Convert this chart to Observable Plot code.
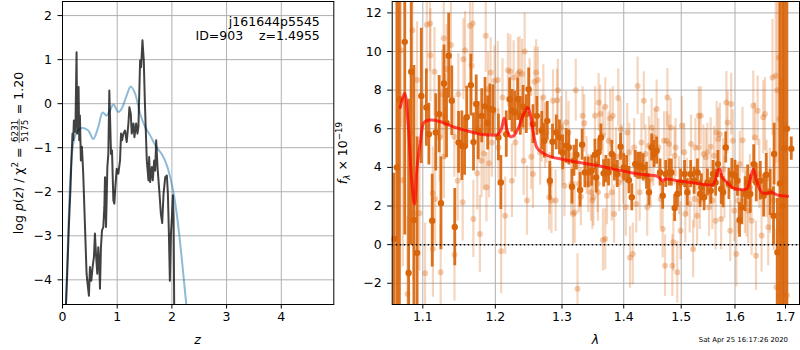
<!DOCTYPE html>
<html><head><meta charset="utf-8">
<script src="https://cdn.jsdelivr.net/npm/d3@7"></script>
<script src="https://cdn.jsdelivr.net/npm/@observablehq/plot@0.6"></script>
<style>
body{margin:0;background:#fff;}
#wrap{position:relative;width:800px;height:350px;}
#wrap svg{position:absolute;left:0;top:0;}
</style></head><body><div id="wrap"></div>
<script>
// ---------- left panel: p(z) ----------
const zTicks = [0, 1, 2, 3, 4];
const pzTicks = [-4, -3, -2, -1, 0, 1, 2];
const priorZ = [0.05,0.104,0.147,0.196,0.257,0.318,0.379,0.471,0.563,0.654,0.734,0.807,0.869,0.930,1.021,1.083,1.174,1.248,1.327,1.419,1.511,1.602,1.713,1.817,1.908,1.982,2.043,2.104,2.165,2.214,2.263,2.30];
const priorLog = [-5.2,-2.95,-1.59,-0.91,-0.64,-0.57,-0.55,-0.61,-0.80,-0.53,-0.20,-0.27,-0.15,-0.02,-0.19,-0.11,0.19,0.39,0.23,-0.23,-0.53,-0.72,-0.98,-1.15,-1.40,-1.74,-2.12,-2.65,-3.33,-3.94,-4.56,-5.1];
const pzZ = [0.055,0.086,0.116,0.147,0.165,0.183,0.196,0.208,0.226,0.239,0.257,0.269,0.281,0.294,0.306,0.318,0.336,0.355,0.379,0.440,0.459,0.483,0.502,0.526,0.550,0.575,0.593,0.612,0.636,0.654,0.673,0.685,0.703,0.722,0.746,0.765,0.777,0.795,0.807,0.820,0.838,0.856,0.869,0.887,0.905,0.930,0.948,0.966,0.991,1.021,1.052,1.070,1.089,1.113,1.144,1.174,1.205,1.223,1.248,1.266,1.297,1.315,1.346,1.370,1.388,1.419,1.437,1.462,1.486,1.505,1.523,1.541,1.572,1.584,1.602,1.633,1.651,1.676,1.694,1.713,1.737,1.755,1.774,1.798,1.823,1.847,1.878,1.908,1.927,1.945,1.963,1.982,2.000,2.018,2.031,2.043];
const pzLog = [-4.8,-3.86,-2.80,-1.89,-1.21,-0.68,-0.83,-0.38,-0.64,-0.34,1.17,-0.68,-0.15,0.38,-0.83,-0.27,-1.29,-0.98,-1.59,-3.86,-4.09,-4.36,-3.71,-4.02,-3.71,-3.48,-2.95,-3.41,-3.86,-3.26,-3.64,-4.20,-3.26,-2.88,-2.80,-2.35,-1.67,-2.80,-2.20,-1.44,-1.14,0.30,-0.30,-1.14,-1.06,-2.20,-2.27,-1.89,-1.48,-1.59,-1.29,-0.68,-0.83,-0.68,-0.61,-0.87,-0.45,-0.08,-0.23,-0.68,-0.45,-0.76,-0.45,-0.68,-0.53,0.98,0.83,1.44,0.98,0.08,-0.61,-1.29,-1.74,-1.21,-1.78,-1.44,-1.74,-1.29,-1.52,-0.83,-1.44,-1.74,-2.05,-2.50,-2.71,-2.05,-1.67,-1.63,-2.05,-2.95,-4.02,-2.95,-2.58,-2.08,-2.58,-4.8];
const annotation = ["j161644p5545", "ID=903\u00a0\u00a0\u00a0\u00a0z=1.4955"];

// ---------- right panel: spectrum ----------
const lamTicks = [1.1, 1.2, 1.3, 1.4, 1.5, 1.6, 1.7];
const fluxTicks = [-2, 0, 2, 4, 6, 8, 10, 12];
const darkWave = [1.0625,1.0663,1.0695,1.0764,1.0814,1.0848,1.0883,1.0925,1.0980,1.1047,1.1080,1.1125,1.1172,1.1218,1.1242,1.1283,1.1317,1.1347,1.1389,1.1430,1.1482,1.1528,1.1565,1.1595,1.1653,1.1690,1.1728,1.1757,1.1806,1.1853,1.1890,1.1922,1.1968,
1.2045,1.2080,1.2159,1.2208,1.2243,1.2282,1.2326,1.2366,1.2407,1.2455,1.2490,1.2555,1.2614,1.2688,1.2727,1.2772,1.2812,1.2852,1.2911,1.2960,1.3010,1.3065,1.3107,1.3156,1.3188,1.3227,1.3286,1.3318,1.3362,1.3416,1.3471,1.3524,1.3545,
1.3584,1.3622,1.3666,1.3703,1.3747,1.3801,1.3844,1.3893,1.3946,1.4000,1.4048,1.4088,1.4136,1.4194,1.4236,1.4282,1.4330,1.4388,1.4430,1.4476,1.4518,1.4564,1.4624,1.4670,1.4723,1.4783,1.4824,1.4882,1.4930,1.4988,1.5061,1.5110,1.5171,1.5234,1.5295,1.5344,
1.5368,1.5418,1.5479,1.5540,1.5584,1.5632,1.5676,1.5737,1.5774,1.5823,1.5884,1.5939,1.6000,1.6047,1.6087,1.6132,1.6197,1.6245,1.6296,1.6363,1.6414,1.6493,1.6560,1.6611,1.6690,1.6757,1.6769,1.6836,1.6888,1.6940,1.6975,1.7028,1.7119];
const darkFlux = [0.3,4.0,7.53,10.5,-1.47,8.95,1.28,-0.43,7.7,7.1,5.72,1.24,5.81,6.76,2.14,8.34,6.3,9.78,7.45,0.91,5.29,5.12,5.09,6.6,8.26,5.31,7.28,5.9,6.67,7.16,6.3,7.02,6.98,
5.55,3.22,5.72,7.53,6.93,6.84,7.53,6.67,7.14,6.76,8.05,6.24,6.67,5.90,5.38,6.41,3.31,5.33,5.81,5.55,4.78,5.12,5.03,3.00,4.34,4.66,2.83,5.17,3.74,3.74,3.83,4.66,3.48,
4.78,5.55,3.69,3.91,3.74,4.69,4.00,3.66,5.07,4.00,3.91,3.34,2.45,4.17,4.09,4.09,4.00,3.57,2.71,5.03,4.69,4.86,3.74,2.53,3.66,3.74,3.74,1.90,2.62,3.22,3.66,2.71,3.66,3.31,3.74,2.62,
2.97,2.45,3.22,2.79,3.66,3.22,4.17,2.88,2.71,5.03,3.14,3.66,3.57,3.31,1.28,1.93,2.62,3.22,2.62,4.17,3.22,3.31,2.53,3.62,2.71,1.50,4.69,-0.40,3.17,2.0,5.0,6.0,4.97];
const darkErr = [3.4,12,11,10,9,9,8,6,3.5,2.0,1.6,2.4,2.0,2.0,2.4,2.0,1.8,2.2,1.8,2.0,1.6,1.8,1.5,1.6,1.6,1.5,1.5,1.5,1.4,1.5,1.4,1.3,1.3,
1.2,1.4,1.2,1.1,1.1,1.1,1.1,1.0,1.1,1.0,1.1,1.0,1.0,1.0,0.9,1.0,1.0,0.9,0.9,0.9,0.9,0.9,0.9,0.9,0.8,0.8,0.9,0.8,0.8,0.8,0.8,0.8,0.8,
0.7,0.7,0.7,0.7,0.7,0.7,0.7,0.7,0.7,0.7,0.7,0.7,0.7,0.7,0.7,0.7,0.7,0.7,0.7,0.7,0.7,0.7,0.7,0.7,0.7,0.7,0.7,0.7,0.7,0.7,0.7,0.7,0.7,0.7,0.7,0.7,
0.7,0.7,0.7,0.7,0.7,0.7,0.7,0.8,0.8,0.8,0.8,0.8,0.8,0.8,0.9,0.9,0.9,0.9,1.0,1.0,1.0,1.0,1.1,1.1,1.2,1.5,1.6,2.8,10,14,14,14,0.6];
const lightWave = [1.0715,1.0738,1.0799,1.0840,1.0863,1.0877,1.0924,1.0956,1.1030,1.1053,1.1095,1.1100,1.1132,1.1134,1.1164,1.1155,1.1225,1.1238,1.1257,1.1280,1.1294,1.1282,1.1317,1.1377,1.1424,1.1426,1.1479,1.1470,1.1539,1.1549,1.1572,1.1641,1.1678,1.1664,1.1688,1.1743,1.1780,1.1803,1.1836,1.1863,1.1873,1.1910,1.1896,1.1933,1.1951,1.1988,
1.2035,1.2045,1.2084,1.2104,1.2143,1.2183,1.2218,1.2242,1.2267,1.2292,1.2331,1.2356,1.2391,1.2415,1.2430,1.2465,1.2504,1.2529,1.2554,1.2579,1.2603,1.2628,1.2663,1.2687,1.2712,1.2737,1.2762,1.2801,1.2811,1.2836,1.2861,1.2900,1.2925,1.2935,1.2984,1.3011,1.3038,1.3065,1.3103,1.3146,1.3173,1.3200,1.3216,1.3244,1.3265,1.3298,1.3325,1.3352,1.3390,1.3417,1.3460,1.3482,1.3498,1.3525,1.3568,
1.3574,1.3584,1.3611,1.3655,1.3693,1.3720,1.3747,1.3774,1.3801,1.3817,1.3839,1.3871,1.3909,1.3925,1.3947,1.3963,1.3990,1.4035,1.4059,1.4094,1.4106,1.4153,1.4176,1.4212,1.4235,1.4270,1.4300,1.4341,1.4370,1.4400,1.4429,1.4459,1.4476,1.4506,1.4529,1.4564,1.4594,1.4635,1.4670,1.4694,1.4711,1.4741,1.4753,1.4782,1.4811,1.4841,1.4858,1.4882,1.4899,1.4929,1.4959,1.4988,1.5012,1.5055,1.5074,1.5104,1.5153,1.5178,1.5215,1.5239,1.5258,1.5289,1.5319,1.5338,1.3655,1.3693,
1.5325,1.5356,1.5405,1.5448,1.5479,1.5510,1.5540,1.5571,1.5602,1.5632,1.5651,1.5681,1.5712,1.5737,1.5773,1.5798,1.5835,1.5859,1.5909,1.5927,1.5958,1.5988,1.6026,1.6059,1.6092,1.6145,1.6191,1.6224,1.6256,1.6289,1.6322,1.6355,1.6388,1.6408,1.6441,1.6473,1.6519,1.6552,1.6585,1.6618,1.6651,1.6684,1.6736,1.6763,1.6802,1.6835,1.6868,1.6881,1.6914,1.6934,1.6961,1.6815,1.6868,1.7028];
const lightFlux = [10.07,3.34,-2.55,5.76,11.1,1.62,8.53,1.62,-1.48,11.38,11.45,9.81,2.66,-0.22,2.36,8.95,5.55,-1.43,7.79,10.69,6.62,4.57,9.09,10.34,5.59,-0.52,7.79,3.31,2.19,9.6,10.07,11.33,11.45,9.26,1.33,3.69,0.55,4.34,4.72,10.81,2.97,4.21,8.05,8.91,5.29,8.48,
8.52,5.03,-0.34,7.62,1.50,9.03,8.97,3.31,8.66,5.29,8.83,8.97,8.83,4.34,10.00,2.28,7.83,4.55,3.66,8.43,8.91,8.52,4.78,5.98,7.62,5.64,5.81,2.45,3.17,2.28,7.45,2.28,7.48,8.00,6.07,4.69,3.05,6.33,5.81,3.14,1.59,1.67,8.00,-2.29,3.14,2.48,6.67,6.28,4.09,3.17,2.71,2.28,2.45,6.67,3.17,
2.71,7.36,6.76,5.64,7.14,2.53,5.38,6.55,2.71,6.67,1.59,4.55,7.59,3.22,5.98,4.69,3.57,1.93,5.81,4.78,-0.66,-0.48,5.03,2.10,8.22,2.71,5.29,7.45,4.69,1.93,5.12,3.40,6.07,4.52,5.55,7.02,5.03,2.36,0.81,5.38,-1.09,5.38,7.62,5.21,6.07,-1.09,0.12,4.60,5.03,-1.43,3.05,0.72,6.16,4.78,1.59,2.97,2.10,5.21,-0.22,2.36,5.03,1.50,6.67,2.28,0.24,0.29,
5.03,6.67,4.69,4.52,4.78,1.93,5.07,2.28,4.60,1.24,5.81,5.47,5.72,1.33,3.91,2.97,7.36,6.33,0.72,7.28,5.38,1.76,-0.48,2.28,4.17,5.41,2.28,2.10,1.76,2.97,1.24,7.19,5.55,-0.57,6.93,3.66,0.47,6.59,6.76,3.40,0.90,2.79,8.66,2.28,8.74,8.00,9.69,6.50,1.59,0.72,3.31,-2.21,-2.69,-2.64];
const lightErr = [4.0,4.5,4.0,3.5,3.5,3.5,3.0,3.0,2.6,2.5,2.5,2.4,2.4,2.5,2.4,2.3,2.3,2.5,2.3,2.4,2.2,2.2,2.3,2.2,2.1,2.4,2.1,2.1,2.0,2.1,2.0,2.1,2.0,2.0,2.0,1.9,2.0,1.9,1.9,1.9,1.8,1.8,1.9,1.8,1.8,1.8,
2.0,2.0,2.2,2.0,2.0,1.9,1.9,1.9,1.9,1.8,1.9,1.8,1.8,1.8,2.0,1.8,1.8,1.7,1.8,1.8,1.7,1.7,1.7,1.7,1.7,1.7,1.6,1.7,1.6,1.7,1.6,1.6,1.6,1.6,1.6,1.6,1.6,1.6,1.6,1.6,1.6,1.6,1.6,1.8,1.5,1.5,1.5,1.5,1.5,1.5,1.5,1.5,1.5,1.5,1.5,
1.5,1.5,1.5,1.5,1.5,1.5,1.5,1.5,1.5,1.5,1.5,1.5,1.5,1.5,1.5,1.5,1.5,1.5,1.5,1.5,1.6,1.6,1.5,1.5,1.5,1.5,1.5,1.5,1.5,1.5,1.5,1.5,1.5,1.5,1.5,1.5,1.5,1.5,1.5,1.5,1.6,1.5,1.5,1.5,1.5,1.6,1.5,1.5,1.5,1.6,1.5,1.5,1.5,1.5,1.5,1.5,1.5,1.5,1.5,1.5,1.5,1.5,1.5,1.5,1.6,1.6,
1.5,1.5,1.5,1.5,1.5,1.5,1.5,1.5,1.5,1.5,1.6,1.6,1.6,1.6,1.6,1.6,1.6,1.6,1.6,1.6,1.6,1.6,1.7,1.7,1.7,1.7,1.7,1.7,1.7,1.7,1.8,1.8,1.8,1.8,1.8,1.8,1.9,1.9,1.9,2.0,2.0,2.2,3.0,2.6,4.5,5.0,5.5,6.0,7.0,8.0,9.0,3.0,4.0,9.0];
const modelWave = [1.0706,1.0762,1.0808,1.0854,1.0890,1.0924,1.0970,1.1016,1.1086,1.1225,1.1410,1.1595,1.1780,1.1965,1.2000,1.2045,1.2094,1.2129,1.2168,1.2218,1.2267,1.2341,1.2415,1.2475,1.2514,1.2564,1.2613,1.2687,1.2786,1.2984,1.3200,1.3417,1.3579,1.3828,1.4106,1.4400,1.4547,1.4606,1.4665,1.4723,1.4929,1.5166,1.5362,1.5571,1.5614,1.5675,1.5712,1.5755,1.5847,1.5939,1.6026,1.6224,1.6289,1.6355,1.6421,1.6519,1.6618,1.6717,1.6815,1.6914,1.7042];
const modelFlux = [7.1,7.83,6.24,3.31,2.1,4.0,5.38,6.33,6.45,6.38,6.10,5.90,5.72,5.67,5.67,5.72,6.07,6.55,5.98,5.59,5.64,6.07,6.76,7.10,6.76,5.72,5.03,4.78,4.60,4.43,4.29,4.17,4.09,3.91,3.74,3.60,3.57,3.48,3.31,3.40,3.31,3.22,3.14,3.10,3.22,3.83,3.91,3.48,3.22,2.97,2.88,2.88,3.31,3.91,3.31,2.71,2.66,2.71,2.59,2.53,2.50];
const timestamp = "Sat Apr 25 16:17:26 2020";

// ---------- tables ----------
const prior = priorZ.map((z, i) => ({z, v: priorLog[i]}));
const pz = pzZ.map((z, i) => ({z, v: pzLog[i]}));
const dark = darkWave.map((w, i) => ({w, f: darkFlux[i], e: darkErr[i]}));
const light = lightWave.map((w, i) => ({w, f: lightFlux[i], e: lightErr[i]}));
const model = modelWave.map((w, i) => ({w, f: modelFlux[i]}));

const FONT = "DejaVu Sans";
const FS = 12.5;
const ORANGE = "#d9650b";
const GRID = {stroke: "#b0b0b0", strokeOpacity: 1, strokeWidth: 1};
const baseStyle = {fontFamily: FONT, fontSize: FS + "px", background: "transparent", overflow: "visible", color: "black"};

const leftPlot = Plot.plot({
  width: 800, height: 350,
  marginLeft: 62, marginRight: 466.7, marginTop: 1, marginBottom: 46,
  style: baseStyle,
  x: {domain: [0, 4.96]},
  y: {domain: [-4.56, 2.32]},
  marks: [
    Plot.gridX({ticks: zTicks, ...GRID}),
    Plot.gridY({ticks: pzTicks, ...GRID}),
    Plot.line(prior, {x: "z", y: "v", stroke: "#1f77b4", strokeOpacity: 0.5, strokeWidth: 2, curve: "catmull-rom", clip: true}),
    Plot.line(pz, {x: "z", y: "v", stroke: "black", strokeOpacity: 0.74, strokeWidth: 2, clip: true}),
    Plot.frame({stroke: "black", strokeWidth: 1}),
    Plot.axisX({ticks: zTicks, tickSize: 4.5, tickPadding: 3.5, tickFormat: d3.format("d"), label: null}),
    Plot.axisY({ticks: pzTicks, tickSize: 4.5, tickPadding: 6, tickFormat: d3.format("d"), label: null}),
    Plot.text([annotation.join("\n")], {frameAnchor: "top-right", dx: -14, dy: 14, lineAnchor: "top", textAnchor: "end", lineHeight: 1.16, fontSize: FS})
  ]
});

const rightPlot = Plot.plot({
  width: 800, height: 350,
  marginLeft: 391.7, marginRight: 1, marginTop: 1, marginBottom: 46,
  style: baseStyle,
  x: {type: "log", domain: [1.0603, 1.7288]},
  y: {domain: [-3.10, 12.59]},
  marks: [
    Plot.gridX({ticks: lamTicks, ...GRID}),
    Plot.gridY({ticks: fluxTicks, ...GRID}),
    Plot.ruleX(light, {x: "w", y1: d => d.f - d.e, y2: d => d.f + d.e, stroke: ORANGE, strokeOpacity: 0.27, strokeWidth: 2.2, clip: true}),
    Plot.dot(light, {x: "w", y: "f", r: 3, fill: ORANGE, fillOpacity: 0.32, clip: true}),
    Plot.ruleX(dark, {x: "w", y1: d => d.f - d.e, y2: d => d.f + d.e, stroke: ORANGE, strokeOpacity: 0.92, strokeWidth: 2.8, clip: true}),
    Plot.dot(dark, {x: "w", y: "f", r: 3.2, fill: ORANGE, fillOpacity: 1, clip: true}),
    Plot.ruleY([0], {stroke: "black", strokeWidth: 1.5, strokeDasharray: "1.5,2.5", clip: true}),
    Plot.line(model, {x: "w", y: "f", stroke: "red", strokeOpacity: 0.7, strokeWidth: 3, curve: "catmull-rom", clip: true}),
    Plot.frame({stroke: "black", strokeWidth: 1}),
    Plot.axisX({ticks: lamTicks, tickSize: 4.5, tickPadding: 3.5, tickFormat: d3.format(".1f"), label: null}),
    Plot.axisY({ticks: fluxTicks, tickSize: 4.5, tickPadding: 6, tickFormat: d3.format("d"), label: null})
  ]
});

const wrap = document.getElementById("wrap");
wrap.append(leftPlot, rightPlot);

const svg = d3.select(rightPlot);
// x labels
svg.append("text").attr("x", 197.5).attr("y", 343.5).attr("text-anchor", "middle")
  .attr("font-family", FONT).attr("font-size", FS).attr("font-style", "italic").text("z");
svg.append("text").attr("x", 595.5).attr("y", 343.5).attr("text-anchor", "middle")
  .attr("font-family", FONT).attr("font-size", FS).attr("font-style", "italic").text("λ");
// timestamp
svg.append("text").attr("x", 788).attr("y", 342).attr("text-anchor", "end")
  .attr("font-family", FONT).attr("font-size", 6.9).text(timestamp);

// right y label: f_λ × 10^−19
{
  const t = svg.append("text").attr("transform", "translate(347,153) rotate(-90)")
    .attr("text-anchor", "middle").attr("font-family", FONT).attr("font-size", FS);
  t.append("tspan").attr("font-style", "italic").text("f");
  t.append("tspan").attr("font-style", "italic").attr("font-size", 8.75).attr("dy", 2.5).text("λ");
  t.append("tspan").attr("dy", -2.5).text(" × 10");
  t.append("tspan").attr("font-size", 8.75).attr("dy", -5).text("−19");
}

// left y label: log p(z) / χ² = 6231/5175 = 1.20
{
  const g = svg.append("g").attr("transform", "translate(23,153) rotate(-90)")
    .attr("font-family", FONT).attr("font-size", FS).attr("fill", "black").attr("text-anchor", "start");
  const t1 = g.append("text").attr("text-anchor", "start");
  t1.append("tspan").text("log ");
  t1.append("tspan").attr("font-style", "italic").text("p");
  t1.append("tspan").text("(");
  t1.append("tspan").attr("font-style", "italic").text("z");
  t1.append("tspan").text(") / χ");
  t1.append("tspan").attr("font-size", 8.75).attr("dy", -5).text("2");
  t1.append("tspan").attr("dy", 5).text(" = ");
  const num = g.append("text").attr("font-size", 8.75).attr("text-anchor", "middle").text("6231");
  const den = g.append("text").attr("font-size", 8.75).attr("text-anchor", "middle").text("5175");
  const t3 = g.append("text").attr("text-anchor", "start").text(" = 1.20");
  const w1 = t1.node().getBBox().width;
  const wf = Math.max(num.node().getBBox().width, den.node().getBBox().width) + 3;
  const w3 = t3.node().getBBox().width;
  const x0 = -(w1 + wf + w3) / 2;
  t1.attr("x", x0);
  num.attr("x", x0 + w1 + wf / 2).attr("y", -5.2);
  den.attr("x", x0 + w1 + wf / 2).attr("y", 4.6);
  g.append("line").attr("x1", x0 + w1 + 0.5).attr("x2", x0 + w1 + wf - 0.5).attr("y1", -3.8).attr("y2", -3.8)
    .attr("stroke", "black").attr("stroke-width", 0.6);
  t3.attr("x", x0 + w1 + wf);
}
</script></body></html>
